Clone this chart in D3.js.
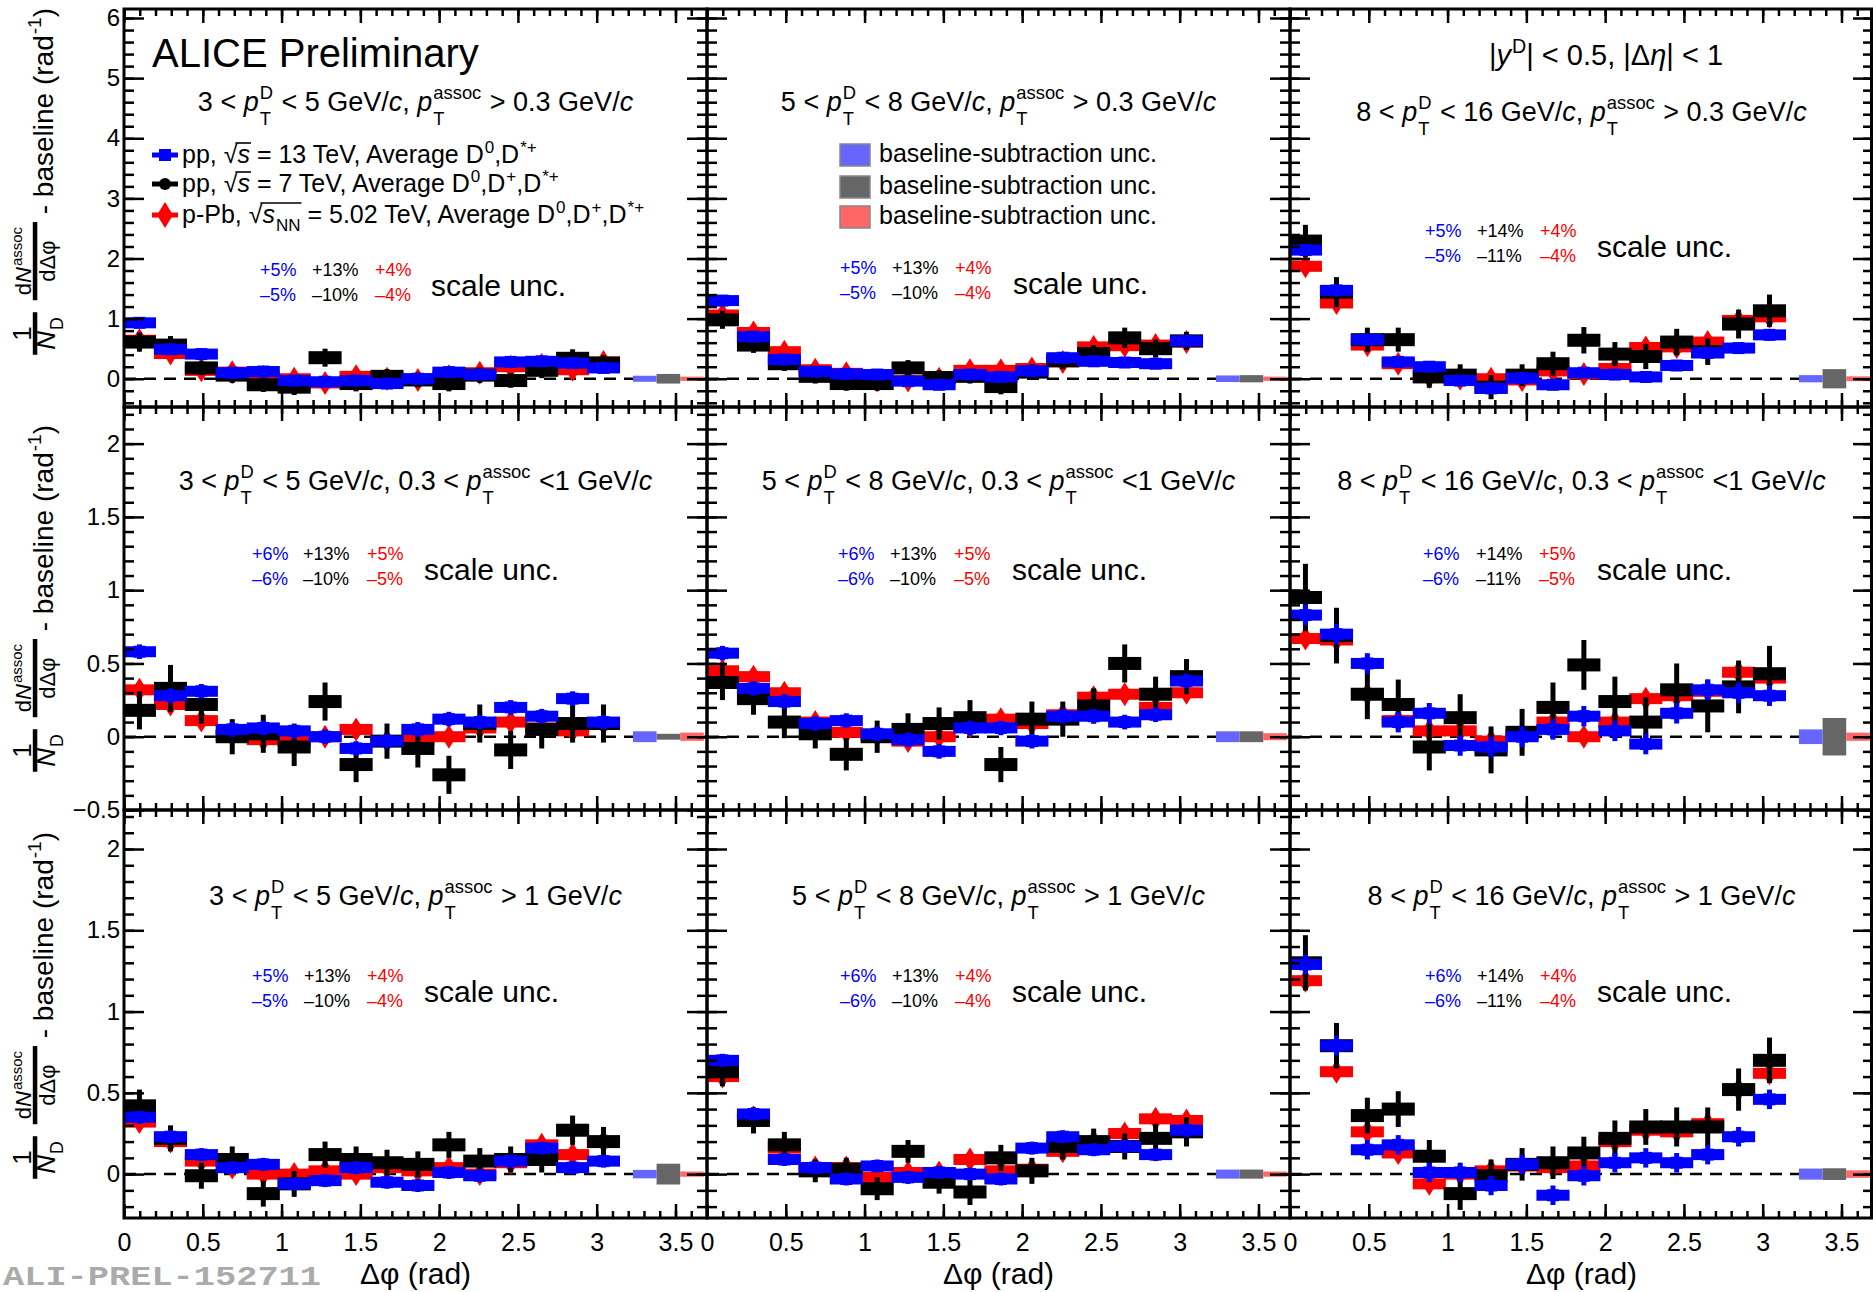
<!DOCTYPE html>
<html><head><meta charset="utf-8">
<script src="https://cdn.jsdelivr.net/npm/d3@7"></script>
<style>
body{margin:0;background:#fff}
svg{display:block}
text{font-family:"Liberation Sans",Arial,Helvetica,sans-serif;white-space:pre}
</style>
</head><body>
<svg id="c" width="1873" height="1292"></svg>
<script>
// ---------------- DATA ----------------
const phiCenters = [0.098,0.295,0.491,0.687,0.884,1.080,1.276,1.473,1.669,1.865,2.062,2.258,2.454,2.651,2.847,3.043];
const xTickLabels = [0,0.5,1,1.5,2,2.5,3,3.5];

// pp 13 TeV (blue)
const pp13_p1 = [0.93,0.49,0.41,0.10,0.12,-0.03,-0.05,-0.03,-0.08,0.00,0.11,0.07,0.28,0.29,0.26,0.18];
const pp13_p2 = [1.30,0.70,0.32,0.12,0.08,0.07,-0.04,-0.10,0.07,0.03,0.13,0.35,0.29,0.27,0.25,0.63];
const pp13_p3 = [2.14,1.47,0.65,0.28,0.20,-0.03,-0.16,0.01,-0.10,0.10,0.07,0.03,0.22,0.43,0.51,0.73];
const pp13_p4 = [0.58,0.28,0.31,0.05,0.06,0.04,0.00,-0.08,-0.03,0.05,0.12,0.10,0.20,0.14,0.26,0.10];
const pp13_p5 = [0.57,0.33,0.24,0.09,0.11,0.02,-0.02,-0.10,0.06,0.06,-0.03,0.14,0.14,0.10,0.15,0.38];
const pp13_p6 = [0.83,0.70,0.50,0.10,0.16,-0.06,-0.07,0.00,0.05,0.14,0.04,-0.05,0.16,0.32,0.30,0.28];
const pp13_p7 = [0.35,0.23,0.12,0.04,0.06,-0.06,-0.04,0.04,-0.05,-0.07,0.01,-0.01,0.08,0.16,0.04,0.08];
const pp13_p8 = [0.70,0.37,0.09,0.04,-0.03,0.05,-0.02,0.01,0.00,-0.03,0.16,0.23,0.15,0.17,0.12,0.27];
const pp13_p9 = [1.29,0.79,0.15,0.18,0.01,0.01,-0.07,0.06,-0.13,-0.01,0.07,0.10,0.07,0.12,0.23,0.46];
const pp13_err = [0.06,0.06,0.09,0.05,0.05,0.07,0.04,0.04,0.06];

// pp 7 TeV (black)
const pp7_p1 = [0.61,0.56,0.18,0.06,-0.10,-0.14,0.35,-0.08,0.04,-0.02,-0.08,0.06,-0.03,0.14,0.34,0.26];
const pp7_p2 = [0.98,0.56,0.25,0.04,-0.08,-0.08,0.18,0.02,0.04,-0.13,0.11,0.30,0.42,0.68,0.50,0.63];
const pp7_p3 = [2.29,1.44,0.65,0.65,0.03,0.06,-0.14,0.06,0.25,0.64,0.41,0.37,0.61,0.45,0.91,1.13];
const pp7_p4 = [0.18,0.33,0.22,0.00,0.02,-0.07,0.24,-0.19,-0.03,-0.08,-0.26,0.09,-0.09,0.05,0.09,0.09];
const pp7_p5 = [0.37,0.26,0.10,0.02,-0.12,0.00,0.05,0.09,0.13,-0.19,0.12,0.12,0.21,0.50,0.29,0.41];
const pp7_p6 = [0.95,0.69,0.29,0.22,-0.07,0.13,-0.09,0.03,0.20,0.49,0.24,0.10,0.32,0.21,0.34,0.43];
const pp7_p7 = [0.42,0.22,-0.01,0.09,-0.12,-0.06,0.12,0.09,0.07,0.06,0.18,0.08,0.09,0.09,0.27,0.20];
const pp7_p8 = [0.63,0.33,0.18,0.02,0.03,-0.09,0.14,-0.05,-0.11,0.10,0.02,0.17,0.20,0.17,0.22,0.26];
const pp7_p9 = [1.30,0.79,0.36,0.40,0.11,-0.12,-0.01,0.06,0.07,0.13,0.22,0.29,0.29,0.29,0.52,0.70];
const pp7_e1 = [0.16,0.15,0.12,0.13,0.12,0.13,0.15,0.13,0.12,0.12,0.13,0.13,0.12,0.13,0.15,0.13];
const pp7_e2 = [0.15,0.13,0.12,0.12,0.12,0.12,0.13,0.12,0.12,0.13,0.13,0.14,0.14,0.17,0.15,0.15];
const pp7_e3 = [0.27,0.25,0.20,0.20,0.18,0.18,0.20,0.18,0.20,0.22,0.20,0.21,0.22,0.22,0.24,0.27];
const pp7_e4 = [0.13,0.16,0.13,0.12,0.13,0.13,0.13,0.12,0.12,0.13,0.13,0.13,0.13,0.13,0.13,0.13];
const pp7_e5 = [0.12,0.11,0.11,0.10,0.11,0.11,0.11,0.11,0.12,0.12,0.12,0.12,0.12,0.13,0.12,0.12];
const pp7_e6 = [0.23,0.19,0.17,0.17,0.16,0.16,0.16,0.16,0.17,0.17,0.17,0.17,0.18,0.18,0.18,0.19];
const pp7_e7 = [0.10,0.08,0.08,0.08,0.08,0.08,0.08,0.08,0.08,0.08,0.08,0.08,0.08,0.08,0.09,0.09];
const pp7_e8 = [0.09,0.08,0.08,0.07,0.07,0.07,0.07,0.07,0.08,0.08,0.08,0.08,0.08,0.08,0.09,0.09];
const pp7_e9 = [0.17,0.14,0.11,0.11,0.10,0.10,0.10,0.10,0.10,0.10,0.11,0.11,0.12,0.12,0.13,0.14];

// p-Pb 5.02 TeV (red)
const pPb_p1 = [0.64,0.42,0.14,0.11,0.03,0.00,-0.07,0.04,0.00,-0.02,0.04,0.10,0.20,0.23,0.15,0.28];
const pPb_p2 = [1.06,0.77,0.45,0.15,0.09,-0.03,-0.03,0.00,0.14,0.14,0.17,0.28,0.53,0.55,0.56,0.61];
const pPb_p3 = [1.87,1.26,0.56,0.25,0.03,0.00,0.00,-0.02,0.13,0.08,0.17,0.52,0.53,0.61,0.97,1.03];
const pPb_p4 = [0.32,0.22,0.11,0.01,-0.02,-0.03,0.00,0.05,-0.03,-0.02,0.00,0.06,0.10,0.06,0.04,0.09];
const pPb_p5 = [0.45,0.41,0.30,0.10,0.03,0.01,-0.03,0.00,0.07,0.12,0.09,0.15,0.27,0.29,0.20,0.30];
const pPb_p6 = [0.67,0.66,0.29,0.11,0.04,0.04,-0.03,0.02,0.10,0.00,0.10,0.26,0.28,0.31,0.44,0.40];
const pPb_p7 = [0.32,0.20,0.08,0.04,0.00,0.00,0.02,0.00,0.04,0.02,0.04,0.00,0.07,0.18,0.12,0.20];
const pPb_p8 = [0.60,0.35,0.16,0.04,0.04,-0.02,0.01,0.01,0.09,0.02,0.03,0.14,0.20,0.25,0.34,0.33];
const pPb_p9 = [1.19,0.63,0.26,0.13,-0.06,0.00,0.02,0.05,0.04,0.05,0.20,0.27,0.26,0.31,0.52,0.62];
const pPb_err = [0.05,0.05,0.07,0.04,0.04,0.05,0.04,0.04,0.05];

// baseline-subtraction uncertainties (half heights) per panel
const baseUncBlue = [0.05,0.055,0.06,0.037,0.037,0.05,0.026,0.028,0.034];
const baseUncGray = [0.08,0.06,0.16,0.02,0.037,0.128,0.064,0.028,0.036];
const baseUncRed  = [0.035,0.035,0.04,0.028,0.024,0.028,0.016,0.016,0.023];
const baseUncX = [3.305,3.455,3.605];

// scale uncertainties (%)
const sclBlue = [5,5,5,6,6,6,5,6,6];
const sclBlackUp = [13,13,14,13,13,14,13,13,14];
const sclBlackDn = [10,10,11,10,10,11,10,10,11];
const sclRed = [4,4,4,5,5,5,4,4,4];

// kinematic ranges
const ptDLow = ['3','5','8'];
const ptDHigh = ['5','8','16'];
const assocLabel = ['> 0.3', '0.3 <', '> 1'];

const legendLabels = [
  [['r','pp, '],['r','\u221A'],['ovs'],['i','s'],['ove'],['r',' = 13 TeV, Average D'],['sup','0'],['r',',D'],['sup','*+']],
  [['r','pp, '],['r','\u221A'],['ovs'],['i','s'],['ove'],['r',' = 7 TeV, Average D'],['sup','0'],['r',',D'],['sup','+'],['r',',D'],['sup','*+']],
  [['r','p-Pb, '],['r','\u221A'],['ovs'],['i','s'],['sub','NN'],['ove'],['r',' = 5.02 TeV, Average D'],['sup','0'],['r',',D'],['sup','+'],['r',',D'],['sup','*+']]
];

// ---------------- DRAW ----------------
const blueData = [pp13_p1,pp13_p2,pp13_p3,pp13_p4,pp13_p5,pp13_p6,pp13_p7,pp13_p8,pp13_p9];
const blackData = [pp7_p1,pp7_p2,pp7_p3,pp7_p4,pp7_p5,pp7_p6,pp7_p7,pp7_p8,pp7_p9];
const blackErr = [pp7_e1,pp7_e2,pp7_e3,pp7_e4,pp7_e5,pp7_e6,pp7_e7,pp7_e8,pp7_e9];
const redData = [pPb_p1,pPb_p2,pPb_p3,pPb_p4,pPb_p5,pPb_p6,pPb_p7,pPb_p8,pPb_p9];

const svg = d3.select('#c');
svg.append('rect').attr('width',1873).attr('height',1292).attr('fill','#fff');

function rich(parent, x, y, parts, size, anchor, fill) {
  fill = fill || '#000';
  const g = parent.append('g').attr('fill', fill);
  const sm = size * 0.68;
  let cx = 0, ovStart = 0;
  const addText = (txt, px, py, fs, italic) => {
    const t = g.append('text').attr('x', px).attr('y', py).attr('font-size', fs)
      .attr('xml:space', 'preserve').style('white-space', 'pre').text(txt);
    if (italic) t.attr('font-style', 'italic');
    return t.node().getComputedTextLength();
  };
  parts.forEach(p => {
    const type = p[0];
    if (type === 'r') cx += addText(p[1], cx, 0, size, false);
    else if (type === 'i') cx += addText(p[1], cx, 0, size, true);
    else if (type === 'sup') cx += addText(p[1], cx + 1, -size * 0.42, sm, false) + 1;
    else if (type === 'sub') cx += addText(p[1], cx + 1, size * 0.3, sm, false) + 1;
    else if (type === 'ss') {
      const w1 = addText(p[1], cx + 1, size * 0.5, sm, false);
      const w2 = addText(p[2], cx + 1, -size * 0.45, sm, false);
      cx += Math.max(w1, w2) + 2;
    }
    else if (type === 'ovs') ovStart = cx - 2;
    else if (type === 'ove') {
      g.append('line').attr('x1', ovStart).attr('x2', cx + 1)
        .attr('y1', -size * 0.8).attr('y2', -size * 0.8)
        .attr('stroke', fill).attr('stroke-width', 1.6);
    }
  });
  const dx = anchor === 'middle' ? -cx / 2 : anchor === 'end' ? -cx : 0;
  g.attr('transform', `translate(${x + dx},${y})`);
  return {g, width: cx};
}

const colX = [124, 707, 1290];
const panelW = 583;
const rowTop = [9, 407, 810];
const rowBot = [407, 810, 1218];
const yDom = [[-0.47, 6.15], [-0.5, 2.25], [-0.27, 2.24]];
const yMajStep = [1, 0.5, 0.5];
const yMinStep = [0.2, 0.1, 0.1];
const kinBase = [[111,111,121],[490,490,490],[905,905,905]];
const sclBase = [[276,274,237],[560,560,560],[982,982,982]];
const sclOff = [[136,188,251,307],[133,185,248,306],[135,187,250,307],
                [128,179,243,300],[131,183,247,305],[133,186,249,307],
                [128,180,243,300],[133,185,248,305],[135,187,250,307]];

function stepVals(lo, hi, step) {
  const out = [];
  for (let i = Math.ceil(lo / step - 1e-9); i * step <= hi + 1e-9; i++) out.push(+(i * step).toFixed(4));
  return out;
}
const fmt = t => (t < 0 ? '\u2212' + Math.abs(t) : String(t));

const blue = '#0000ff', red = '#ff0000', black = '#000000';

for (let r = 0; r < 3; r++) {
  for (let c = 0; c < 3; c++) {
    const p = r * 3 + c;
    const x0 = colX[c], y0 = rowTop[r], h = rowBot[r] - rowTop[r], w = panelW;
    const x = d3.scaleLinear().domain([0, 3.7]).range([0, w]);
    const y = d3.scaleLinear().domain(yDom[r]).range([h, 0]);
    const g = svg.append('g').attr('transform', `translate(${x0},${y0})`);
    const clipId = 'clip' + p;
    g.append('clipPath').attr('id', clipId).append('rect').attr('width', w).attr('height', h);
    const data = g.append('g').attr('clip-path', `url(#${clipId})`);

    // zero dashed line
    data.append('line').attr('x1', 0).attr('x2', w).attr('y1', y(0)).attr('y2', y(0))
      .attr('stroke', '#000').attr('stroke-width', 2.5).attr('stroke-dasharray', '12,8');

    // baseline unc boxes
    const bu = [[baseUncBlue[p], '#6666ff'], [baseUncGray[p], '#666666'], [baseUncRed[p], '#ff6666']];
    bu.forEach((b, i) => {
      data.append('rect').attr('x', x(baseUncX[i] - 0.075)).attr('width', x(0.15) - x(0))
        .attr('y', y(b[0])).attr('height', y(-b[0]) - y(b[0])).attr('fill', b[1]);
    });

    const bw = x(0.21) - x(0);
    const series = [
      {vals: redData[p], err: phiCenters.map(() => pPb_err[p]), col: red, bh: 11, m: 'd'},
      {vals: blackData[p], err: blackErr[p], col: black, bh: 13, m: 'c'},
      {vals: blueData[p], err: phiCenters.map(() => pp13_err[p]), col: blue, bh: 11, m: 's'}
    ];
    series.forEach(s => {
      const sg = data.append('g');
      const pts = s.vals.map((v, i) => ({x: phiCenters[i], v, e: s.err[i]}));
      sg.selectAll('rect.box').data(pts).join('rect').attr('class', 'box')
        .attr('x', d => x(d.x) - bw / 2).attr('width', bw)
        .attr('y', d => y(d.v) - s.bh / 2).attr('height', s.bh).attr('fill', s.col);
      sg.selectAll('line.err').data(pts).join('line').attr('class', 'err')
        .attr('x1', d => x(d.x)).attr('x2', d => x(d.x))
        .attr('y1', d => y(d.v + d.e)).attr('y2', d => y(d.v - d.e))
        .attr('stroke', s.col).attr('stroke-width', 5);
      if (s.m === 's') {
        sg.selectAll('rect.mk').data(pts).join('rect').attr('class', 'mk')
          .attr('x', d => x(d.x) - 6).attr('y', d => y(d.v) - 6).attr('width', 12).attr('height', 12).attr('fill', s.col);
      } else if (s.m === 'c') {
        sg.selectAll('circle').data(pts).join('circle')
          .attr('cx', d => x(d.x)).attr('cy', d => y(d.v)).attr('r', 6).attr('fill', s.col);
      } else {
        sg.selectAll('path').data(pts).join('path')
          .attr('d', d => `M${x(d.x)},${y(d.v) - 12}L${x(d.x) + 7.5},${y(d.v)}L${x(d.x)},${y(d.v) + 12}L${x(d.x) - 7.5},${y(d.v)}Z`)
          .attr('fill', s.col);
      }
    });

    // ticks
    const ax = g.append('g');
    const mk = (fn, sc, vals, size, tr) => {
      const a = ax.append('g').attr('transform', tr).call(fn(sc).tickValues(vals).tickSize(size).tickFormat(''));
      a.select('.domain').remove();
      a.selectAll('line').attr('stroke', '#000').attr('stroke-width', 2.5);
    };
    const yMaj = stepVals(yDom[r][0], yDom[r][1], yMajStep[r]);
    const yMin = stepVals(yDom[r][0], yDom[r][1], yMinStep[r]);
    const xMaj = stepVals(0, 3.7, 0.5);
    const xMin = stepVals(0, 3.7, 0.1);
    mk(d3.axisLeft, y, yMaj, -20, 'translate(0,0)');
    mk(d3.axisLeft, y, yMin, -10, 'translate(0,0)');
    mk(d3.axisRight, y, yMaj, -20, `translate(${w},0)`);
    mk(d3.axisRight, y, yMin, -10, `translate(${w},0)`);
    mk(d3.axisBottom, x, xMaj, -14, `translate(0,${h})`);
    mk(d3.axisBottom, x, xMin, -7, `translate(0,${h})`);
    mk(d3.axisTop, x, xMaj, -14, 'translate(0,0)');
    mk(d3.axisTop, x, xMin, -7, 'translate(0,0)');

    // frame
    g.append('rect').attr('x', 0).attr('y', 0).attr('width', w - (c === 2 ? 1.5 : 0)).attr('height', h)
      .attr('fill', 'none').attr('stroke', '#000').attr('stroke-width', 3);

    // tick labels
    if (c === 0) {
      const a = g.append('g').call(d3.axisLeft(y).tickValues(yMaj).tickSize(0).tickPadding(4).tickFormat(fmt));
      a.select('.domain').remove();
      a.selectAll('text').attr('font-size', 24).attr('fill', '#000');
    }
    if (r === 2) {
      const a = g.append('g').attr('transform', `translate(0,${h})`)
        .call(d3.axisBottom(x).tickValues(xTickLabels).tickSize(0).tickPadding(15).tickFormat(t => String(t)));
      a.select('.domain').remove();
      a.selectAll('text').attr('font-size', 25).attr('fill', '#000');
      g.append('text').attr('x', w / 2).attr('y', h + 66).attr('text-anchor', 'middle')
        .attr('font-size', 30).text('\u0394\u03C6 (rad)');
    }

    // kinematic label
    const kp = [['r', ptDLow[c] + ' < '], ['i', 'p'], ['ss', 'T', 'D'], ['r', ' < ' + ptDHigh[c] + ' GeV/'], ['i', 'c'], ['r', ', ']];
    if (r === 1) kp.push(['r', assocLabel[r] + ' ']);
    kp.push(['i', 'p'], ['ss', 'T', 'assoc']);
    if (r === 1) kp.push(['r', ' <1 GeV/']); else kp.push(['r', ' ' + assocLabel[r] + ' GeV/']);
    kp.push(['i', 'c']);
    rich(svg, x0 + w / 2, kinBase[r][c], kp, 27, 'middle');

    // scale unc
    const sb = sclBase[r][c], so = sclOff[p];
    svg.append('text').attr('x', x0 + so[0]).attr('y', sb).attr('font-size', 18).attr('fill', blue).text('+' + sclBlue[p] + '%');
    svg.append('text').attr('x', x0 + so[0]).attr('y', sb + 25).attr('font-size', 18).attr('fill', blue).text('\u2013' + sclBlue[p] + '%');
    svg.append('text').attr('x', x0 + so[1]).attr('y', sb).attr('font-size', 18).attr('fill', black).text('+' + sclBlackUp[p] + '%');
    svg.append('text').attr('x', x0 + so[1]).attr('y', sb + 25).attr('font-size', 18).attr('fill', black).text('\u2013' + sclBlackDn[p] + '%');
    svg.append('text').attr('x', x0 + so[2]).attr('y', sb).attr('font-size', 18).attr('fill', red).text('+' + sclRed[p] + '%');
    svg.append('text').attr('x', x0 + so[2]).attr('y', sb + 25).attr('font-size', 18).attr('fill', red).text('\u2013' + sclRed[p] + '%');
    svg.append('text').attr('x', x0 + so[3]).attr('y', sb + 20).attr('font-size', 30).attr('fill', black).text('scale unc.');
  }
}

// ALICE Preliminary
svg.append('text').attr('x', 152).attr('y', 67).attr('font-size', 40).text('ALICE Preliminary');

// rapidity label
rich(svg, 1489, 65, [['r', '|'], ['i', 'y'], ['sup', 'D'], ['r', '| < 0.5, |\u0394'], ['i', '\u03B7'], ['r', '| < 1']], 29, 'start');

// legend 1
const legCols = [blue, black, red];
const legY = [155, 184, 215];
legendLabels.forEach((parts, i) => {
  const col = legCols[i], yy = legY[i];
  svg.append('line').attr('x1', 152).attr('x2', 178).attr('y1', yy).attr('y2', yy).attr('stroke', col).attr('stroke-width', 5);
  if (i === 0) svg.append('rect').attr('x', 159).attr('y', yy - 6).attr('width', 12).attr('height', 12).attr('fill', col);
  if (i === 1) svg.append('circle').attr('cx', 165).attr('cy', yy).attr('r', 6).attr('fill', col);
  if (i === 2) svg.append('path').attr('d', `M165,${yy - 13}L173,${yy}L165,${yy + 13}L157,${yy}Z`).attr('fill', col);
  rich(svg, 182, yy + 8, parts, 25, 'start');
});

// legend 2 (baseline subtraction)
const leg2Col = ['#6666ff', '#666666', '#ff6666'];
const leg2Y = [144, 176, 206];
leg2Col.forEach((col, i) => {
  svg.append('rect').attr('x', 840).attr('y', leg2Y[i]).attr('width', 30).attr('height', 22)
    .attr('fill', col).attr('stroke', '#888').attr('stroke-width', 1.5);
  svg.append('text').attr('x', 879).attr('y', leg2Y[i] + 18).attr('font-size', 25).text('baseline-subtraction unc.');
});

// y-axis titles
function yTitle(yEnd) {
  const outer = svg.append('g').attr('transform', `translate(35,${yEnd}) rotate(-90)`);
  const inner = outer.append('g');
  let cx = 0;
  const frac = (num, den, fs) => {
    const n = rich(inner, 0, 0, num, fs, 'start');
    const d = rich(inner, 0, 0, den, fs, 'start');
    const W = Math.max(n.width, d.width) + 10;
    n.g.attr('transform', `translate(${cx + (W - n.width) / 2},-4)`);
    d.g.attr('transform', `translate(${cx + (W - d.width) / 2},20)`);
    inner.append('rect').attr('x', cx).attr('y', -2.2).attr('width', W).attr('height', 4.5).attr('fill', '#000');
    cx += W;
  };
  frac([['r', '1']], [['i', 'N'], ['sub', 'D']], 26);
  cx += 12;
  frac([['r', 'd'], ['i', 'N'], ['sup', 'assoc']], [['r', 'd\u0394\u03C6']], 22);
  const m = rich(inner, cx, 18, [['r', ' - baseline (rad'], ['sup', '-1'], ['r', ')']], 28, 'start');
  cx += m.width;
  inner.attr('transform', `translate(${-cx},0)`);
}
[8, 425, 832].forEach(yTitle);

// preliminary id
svg.append('text').attr('x', 3).attr('y', 1285)
  .style('font-family', '"Liberation Mono","DejaVu Sans Mono",monospace').style('font-weight', 'bold')
  .attr('font-size', 27).attr('textLength', 318).attr('lengthAdjust', 'spacingAndGlyphs')
  .attr('fill', '#aaaaaa').text('ALI-PREL-152711');
</script>
</body></html>
